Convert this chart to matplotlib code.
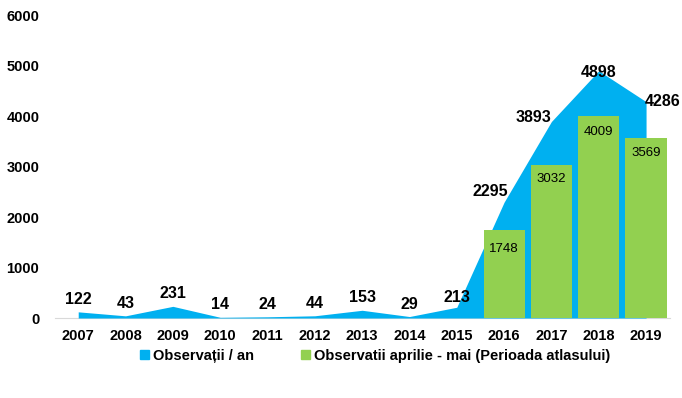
import numpy as np
import matplotlib
matplotlib.use('Agg')
from matplotlib import pyplot as plt
from matplotlib.patches import Patch

plt.rcParams['font.family'] = ['Liberation Sans', 'DejaVu Sans']

years = ['2007', '2008', '2009', '2010', '2011', '2012', '2013',
         '2014', '2015', '2016', '2017', '2018', '2019']
obs_per_year = [122, 43, 231, 14, 24, 44, 153, 29, 213, 2295, 3893, 4898, 4286]
bar_years = ['2016', '2017', '2018', '2019']
obs_apr_may = [1748, 3032, 4009, 3569]

blue = '#00B0F0'
green = '#92D050'

fig = plt.figure(figsize=(6.82, 3.98), dpi=100)
ax = fig.add_axes([0.08, 0.201, 0.902, 0.761])

x = np.arange(len(years))
ax.fill_between(x, obs_per_year, 0, color=blue, linewidth=0, zorder=1)

bx = [years.index(y) for y in bar_years]
ax.bar(bx, obs_apr_may, width=0.87, color=green, zorder=2)

# offsets (points) for the area labels
area_off = [(0, 9), (0, 9), (0, 9), (0, 9), (0, 9), (0, 9), (0, 9), (0, 9), (0, 7),
            (-10, 8), (-13, 3), (0, -1), (12, 0)]
for xi, v, off in zip(x, obs_per_year, area_off):
    ax.annotate(str(v), (xi, v), xytext=off, textcoords='offset points',
                ha='center', va='center', fontsize=11.5, fontweight='bold', zorder=3)

bar_off = [-14, -10, -12, -11]
for xi, v, off in zip(bx, obs_apr_may, bar_off):
    ax.annotate(str(v), (xi, v), xytext=(0, off), textcoords='offset points',
                ha='center', va='center', fontsize=9.5, zorder=3)

ax.set_xlim(-0.5, len(years) - 0.5)
ax.set_ylim(0, 6000)
ax.set_yticks(range(0, 6001, 1000))
ax.set_xticks(x)
ax.set_xticklabels(years)
for lbl in ax.get_xticklabels() + ax.get_yticklabels():
    lbl.set_fontweight('bold')
    lbl.set_fontsize(10.5)
ax.tick_params(length=0)
ax.tick_params(axis='x', pad=8)
ax.tick_params(axis='y', pad=11)
for s in ['top', 'right', 'left']:
    ax.spines[s].set_visible(False)
ax.spines['bottom'].set_color('#D9D9D9')
ax.spines['bottom'].set_zorder(0)

handles = [Patch(color=blue), Patch(color=green)]
labels = ['Observații / an', 'Observatii aprilie - mai (Perioada atlasului)']
fig.legend(handles, labels, loc='center', bbox_to_anchor=(0.55, 1 - 356 / 398), ncol=2,
           frameon=False, handlelength=0.6, handleheight=0.6, handletextpad=0.3,
           columnspacing=3.2, prop={'weight': 'bold', 'size': 10.5})

fig.savefig('out.png', dpi=100)
